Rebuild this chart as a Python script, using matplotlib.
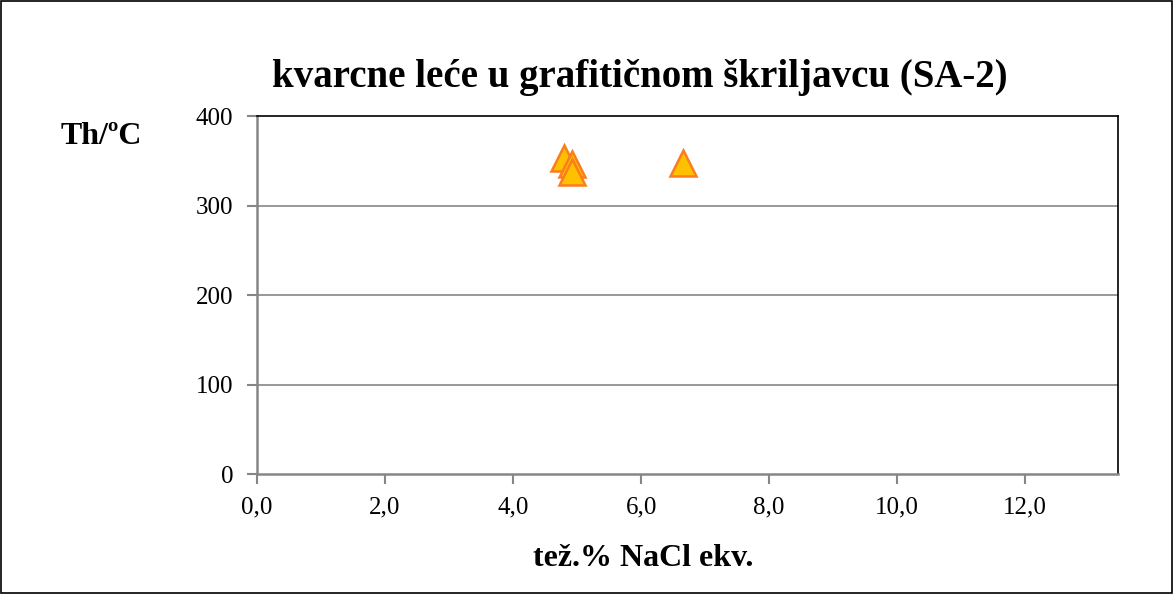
import matplotlib.pyplot as plt
from matplotlib.patches import Rectangle

# tež.% NaCl ekv. vs. Th (°C)
salinity = [4.8, 4.92, 4.92, 6.66]
th = [353, 346, 337, 347]

x_ticks = [0, 2, 4, 6, 8, 10, 12]
x_labels = ['0,0', '2,0', '4,0', '6,0', '8,0', '10,0', '12,0']
y_ticks = [0, 100, 200, 300, 400]

plt.rcParams['font.family'] = ['Liberation Serif', 'DejaVu Serif']

fig = plt.figure(figsize=(11.74, 5.94), dpi=100)
ax = fig.add_axes([0.2189, 0.2020, 0.9523 - 0.2189, 0.8047 - 0.2020])

# outer border of the chart
fig.patches.append(Rectangle((0.001, 0.002), 0.997, 0.996, transform=fig.transFigure,
                             fill=False, edgecolor='black', linewidth=1.2))

ax.plot(salinity, th, '^', ms=19, markerfacecolor='#ffc000',
        markeredgecolor='#fa7d1e', markeredgewidth=1.8, clip_on=False)

ax.set_xlim(0, 13.45)
ax.set_ylim(0, 400)
ax.set_xticks(x_ticks)
ax.set_xticklabels(x_labels)
ax.set_yticks(y_ticks)

for y in [100, 200, 300]:
    ax.axhline(y, color='#868686', linewidth=1.2, zorder=0)

ax.spines['top'].set_color('black')
ax.spines['right'].set_color('black')
ax.spines['top'].set_linewidth(1.2)
ax.spines['right'].set_linewidth(1.2)
ax.spines['left'].set_color('#868686')
ax.spines['bottom'].set_color('#868686')
ax.spines['left'].set_linewidth(1.8)
ax.spines['bottom'].set_linewidth(1.8)

ax.tick_params(axis='both', direction='out', length=7, width=1.5, color='#868686',
               labelsize=18)
ax.tick_params(axis='y', pad=10)
ax.tick_params(axis='x', pad=9)

fig.text(0.545, 0.869, 'kvarcne leće u grafitičnom škriljavcu (SA-2)',
         ha='center', va='center', fontsize=28, fontweight='bold')
fig.text(0.052, 0.771, 'Th/ºC', ha='left', va='center', fontsize=23, fontweight='bold')
fig.text(0.548, 0.059, 'tež.% NaCl ekv.', ha='center', va='center',
         fontsize=23, fontweight='bold')

fig.savefig('out.png', dpi=100)
